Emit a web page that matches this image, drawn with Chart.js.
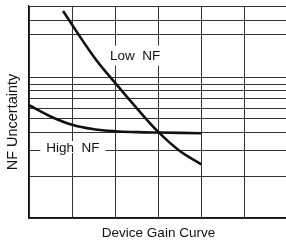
<!DOCTYPE html>
<html>
<head>
<meta charset="utf-8">
<script src="https://cdn.jsdelivr.net/npm/chart.js@4.4.1/dist/chart.umd.min.js"></script>
<style>
  html, body { margin: 0; padding: 0; background: #fff; }
  #wrap { width: 286px; height: 241px; }
</style>
</head>
<body>
<div id="wrap"><canvas id="chart"></canvas></div>
<script>
// Data (x: grid columns, y: 0 = bottom, 100 = top)
const lowNfX = [0.79, 1.5, 2.0, 2.5, 3.0, 3.5, 4.0];
const lowNfY = [97.6, 76.2, 63.7, 51.8, 40.6, 31.6, 25.3];

const highNfX = [0, 0.5, 1.0, 1.5, 2.0, 2.5, 3.0, 4.0];
const highNfY = [53.2, 47.9, 44.0, 41.9, 40.9, 40.5, 40.3, 40.0];

// gridlines (no tick labels shown)
const xGrid = [0, 1, 2, 3, 4, 5];
const yGrid = [0, 19.8, 31.8, 40.4, 47.1, 51.8, 56.6, 60.0, 63.2, 66.5, 86.6, 93.2, 100];

// curve labels, placed in data units
const labelText = ["Low  NF", "High  NF"];
const labelX = [2.465, 1.02];
const labelY = [76.6, 33.5];

const toPoints = (xs, ys) => xs.map((x, i) => ({ x: x, y: ys[i] }));

const FONT = "'Liberation Sans', Arial, sans-serif";
const INK = "#111";
const GRID = "#333";

// text labels with a white box behind them (they cut the grid like in the print)
const curveLabels = {
  id: "curveLabels",
  afterDatasetsDraw(chart) {
    const { ctx, scales: { x, y } } = chart;
    ctx.save();
    ctx.font = "13.5px " + FONT;
    ctx.textAlign = "center";
    ctx.textBaseline = "middle";
    const padX = [4, 6];
    const padY = [10, 6];
    labelText.forEach((t, i) => {
      const px = x.getPixelForValue(labelX[i]);
      const py = y.getPixelForValue(labelY[i]);
      const w = ctx.measureText(t).width;
      ctx.fillStyle = "#fff";
      ctx.fillRect(px - w / 2 - padX[i], py - padY[i], w + padX[i] * 2, padY[i] * 2);
      ctx.fillStyle = INK;
      ctx.fillText(t, px, py + 1);
    });
    ctx.restore();
  }
};

// axis titles
const axisTitles = {
  id: "axisTitles",
  afterDraw(chart) {
    const { ctx, chartArea } = chart;
    ctx.save();
    ctx.fillStyle = INK;
    ctx.textAlign = "center";
    ctx.textBaseline = "middle";
    ctx.font = "13.5px " + FONT;
    ctx.fillText("Device Gain Curve", (chartArea.left + chartArea.right) / 2 + 1, chartArea.bottom + 15);
    ctx.font = "14.5px " + FONT;
    ctx.translate(chartArea.left - 16, chartArea.top + 116);
    ctx.rotate(-Math.PI / 2);
    ctx.fillText("NF Uncertainty", 0, 0);
    ctx.restore();
  }
};

new Chart(document.getElementById("chart"), {
  type: "line",
  data: {
    datasets: [
      {
        label: "Low NF",
        data: toPoints(lowNfX, lowNfY),
        borderColor: INK,
        borderWidth: 2.6,
        pointRadius: 0,
        tension: 0.4,
        fill: false
      },
      {
        label: "High NF",
        data: toPoints(highNfX, highNfY),
        borderColor: INK,
        borderWidth: 2.6,
        pointRadius: 0,
        tension: 0.4,
        fill: false
      }
    ]
  },
  options: {
    responsive: true,
    maintainAspectRatio: false,
    animation: false,
    events: [],
    layout: { padding: { left: 29, top: 6, right: 0, bottom: 23 } },
    plugins: { legend: { display: false }, tooltip: { enabled: false } },
    scales: {
      x: {
        type: "linear",
        min: 0,
        max: 5.965,
        afterBuildTicks: s => { s.ticks = xGrid.map(v => ({ value: v })); },
        ticks: { display: false },
        grid: { color: GRID, lineWidth: 1, drawTicks: false },
        border: { display: true, color: INK, width: 1.2 }
      },
      y: {
        type: "linear",
        min: 0,
        max: 100,
        afterBuildTicks: s => { s.ticks = yGrid.map(v => ({ value: v })); },
        ticks: { display: false },
        grid: { color: GRID, lineWidth: 1, drawTicks: false },
        border: { display: true, color: INK, width: 1.2 }
      }
    }
  },
  plugins: [curveLabels, axisTitles]
});
</script>
</body>
</html>
